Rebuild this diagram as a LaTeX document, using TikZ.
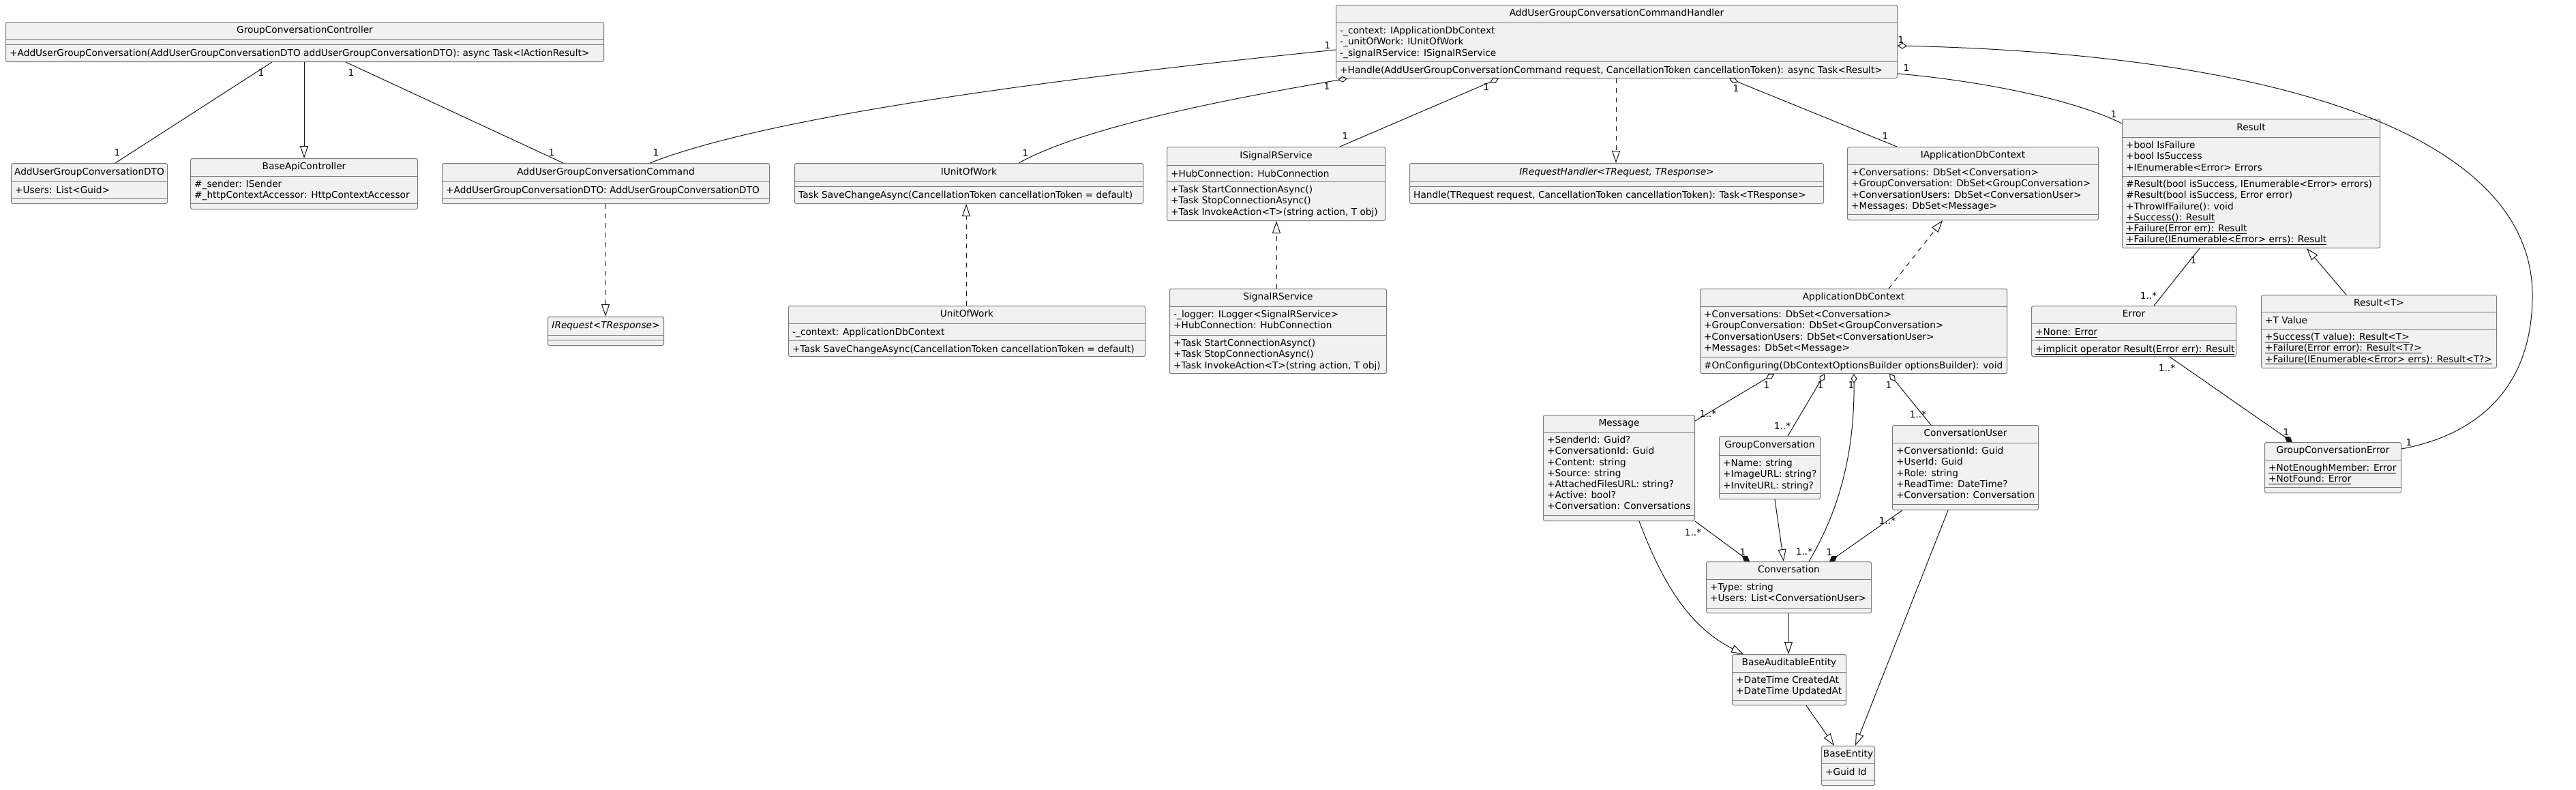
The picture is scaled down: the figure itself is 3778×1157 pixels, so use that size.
\documentclass[tikz,border=0pt]{standalone}
\usepackage{fontspec}
\setmainfont{DejaVu Sans}
\usepackage{tikz}
\usetikzlibrary{arrows.meta}
\definecolor{clsfill}{HTML}{F1F1F1}
\definecolor{clsline}{HTML}{7A7A7A}
\definecolor{conline}{HTML}{181818}
\newcommand{\umlfont}{\fontsize{13.7}{16.2}\selectfont}
\newcommand{\ulmem}[1]{\setbox0\hbox{#1}\rlap{\vrule height -2.4pt depth 3.4pt width \wd0}\box0}
\newcommand{\umlclass}[8]{%
  \node[cls, minimum width={#4-#2}, minimum height={#5-#3}] (#1) at (#2,#3) {};
  \draw[sep] ([yshift={#3-#6}]#1.north west) -- ([yshift={#3-#6}]#1.north east);
  \draw[sep] ([yshift={#3-#7}]#1.north west) -- ([yshift={#3-#7}]#1.north east);
  \node[ttl] (#1-title) at ([yshift={(#3-#6)/2}]#1.north) {#8};
  \coordinate (#1-attr) at ([xshift=6, yshift={#3-#6-6}]#1.north west);
  \coordinate (#1-meth) at ([xshift=6, yshift={#3-#7-6}]#1.north west);
}
\tikzset{
  cls/.style={draw=clsline, fill=clsfill, line width=1pt, rounded corners=2.5pt, inner sep=0pt, anchor=north west},
  sep/.style={draw=clsline, line width=1pt},
  ttl/.style={font=\umlfont, inner sep=0pt, text height=10.2pt, text depth=2.8pt},
  mem/.style={font=\umlfont, inner sep=0pt, anchor=north west, align=left, execute at begin node=\strut},
  mult/.style={font=\umlfont, inner sep=0pt},
  assoc/.style={draw=conline, line width=1pt},
  gen/.style={assoc, -{Triangle[open, length=18pt, width=12pt]}},
  real/.style={gen, dash pattern=on 7pt off 7pt},
  aggr/.style={assoc, {Diamond[open, length=14pt, width=9pt]}-},
  comp/.style={assoc, -{Diamond[length=14pt, width=9pt]}}
}

\begin{document}
\begin{tikzpicture}[x=1pt, y=-1pt]
\fill[white] (0,0) rectangle (3778,1157);
\useasboundingbox (0,0) rectangle (3778,1157);

\umlclass{gcc}{8}{32}{885}{90}{57}{65}{GroupConversationController}
\node[mem] (gcc-m) at (gcc-meth) {+AddUserGroupConversation(AddUserGroupConversationDTO addUserGroupConversationDTO): async Task<IActionResult>};

\umlclass{dto}{16}{239}{245}{298}{266}{290}{AddUserGroupConversationDTO}
\node[mem] (dto-a) at (dto-attr) {+Users: List<Guid>};

\umlclass{bac}{279}{232}{612}{306}{258}{298}{BaseApiController}
\node[mem] (bac-a) at (bac-attr) {\#\_sender: ISender\\\#\_httpContextAccessor: HttpContextAccessor};

\umlclass{cmd}{648}{239}{1128}{298}{266}{290}{AddUserGroupConversationCommand}
\node[mem] (cmd-a) at (cmd-attr) {+AddUserGroupConversationDTO: AddUserGroupConversationDTO};

\umlclass{ireq}{803}{464}{973}{506}{491}{498}{\textit{IRequest<TResponse>}}

\umlclass{iuow}{1165}{239}{1676}{298}{266}{273}{IUnitOfWork}
\node[mem] (iuow-m) at (iuow-meth) {Task SaveChangeAsync(CancellationToken cancellationToken = default)};

\umlclass{uow}{1156}{448}{1679}{522}{474}{499}{UnitOfWork}
\node[mem] (uow-a) at (uow-attr) {-\_context: ApplicationDbContext};
\node[mem] (uow-m) at (uow-meth) {+Task SaveChangeAsync(CancellationToken cancellationToken = default)};

\umlclass{isr}{1711}{215}{2031}{323}{242}{266}{ISignalRService}
\node[mem] (isr-a) at (isr-attr) {+HubConnection: HubConnection};
\node[mem] (isr-m) at (isr-meth) {+Task StartConnectionAsync()\\+Task StopConnectionAsync()\\+Task InvokeAction<T>(string action, T obj)};

\umlclass{sr}{1715}{423}{2033}{547}{449}{491}{SignalRService}
\node[mem] (sr-a) at (sr-attr) {-\_logger: ILogger<SignalRService>\\+HubConnection: HubConnection};
\node[mem] (sr-m) at (sr-meth) {+Task StartConnectionAsync()\\+Task StopConnectionAsync()\\+Task InvokeAction<T>(string action, T obj)};

\umlclass{hdl}{1959}{7}{2782}{114}{33}{90}{AddUserGroupConversationCommandHandler}
\node[mem] (hdl-a) at (hdl-attr) {-\_context: IApplicationDbContext\\-\_unitOfWork: IUnitOfWork\\-\_signalRService: ISignalRService};
\node[mem] (hdl-m) at (hdl-meth) {+Handle(AddUserGroupConversationCommand request, CancellationToken cancellationToken): async Task<Result>};

\umlclass{irh}{2067}{239}{2674}{298}{266}{273}{\textit{IRequestHandler<TRequest, TResponse>}}
\node[mem] (irh-m) at (irh-meth) {Handle(TRequest request, CancellationToken cancellationToken): Task<TResponse>};

\umlclass{iadc}{2709}{215}{3077}{322}{241}{314}{IApplicationDbContext}
\node[mem] (iadc-a) at (iadc-attr) {+Conversations: DbSet<Conversation>\\+GroupConversation: DbSet<GroupConversation>\\+ConversationUsers: DbSet<ConversationUser>\\+Messages: DbSet<Message>};

\umlclass{res}{3112}{174}{3490}{363}{201}{258}{Result}
\node[mem] (res-a) at (res-attr) {+bool IsFailure\\+bool IsSuccess\\+IEnumerable<Error> Errors};
\node[mem] (res-m) at (res-meth) {\#Result(bool isSuccess, IEnumerable<Error> errors)\\\#Result(bool isSuccess, Error error)\\+ThrowIfFailure(): void\\\ulmem{+Success(): Result}\\\ulmem{+Failure(Error err): Result}\\\ulmem{+Failure(IEnumerable<Error> errs): Result}};

\umlclass{adc}{2493}{423}{2943}{547}{449}{523}{ApplicationDbContext}
\node[mem] (adc-a) at (adc-attr) {+Conversations: DbSet<Conversation>\\+GroupConversation: DbSet<GroupConversation>\\+ConversationUsers: DbSet<ConversationUser>\\+Messages: DbSet<Message>};
\node[mem] (adc-m) at (adc-meth) {\#OnConfiguring(DbContextOptionsBuilder optionsBuilder): void};

\umlclass{err}{2979}{448}{3279}{522}{474}{499}{Error}
\node[mem] (err-a) at (err-attr) {\ulmem{+None: Error}};
\node[mem] (err-m) at (err-meth) {\ulmem{+implicit operator Result(Error err): Result}};

\umlclass{rest}{3316}{432}{3661}{539}{457}{482}{Result<T>}
\node[mem] (rest-a) at (rest-attr) {+T Value};
\node[mem] (rest-m) at (rest-meth) {\ulmem{+Success(T value): Result<T>}\\\ulmem{+Failure(Error error): Result<T?>}\\\ulmem{+Failure(IEnumerable<Error> errs): Result<T?>}};

\umlclass{gce}{3321}{648}{3521}{722}{674}{714}{GroupConversationError}
\node[mem] (gce-a) at (gce-attr) {\ulmem{+NotEnoughMember: Error}\\\ulmem{+NotFound: Error}};

\umlclass{msg}{2263}{608}{2485}{763}{633}{755}{Message}
\node[mem] (msg-a) at (msg-attr) {+SenderId: Guid?\\+ConversationId: Guid\\+Content: string\\+Source: string\\+AttachedFilesURL: string?\\+Active: bool?\\+Conversation: Conversations};

\umlclass{gc}{2521}{639}{2669}{731}{667}{723}{GroupConversation}
\node[mem] (gc-a) at (gc-attr) {+Name: string\\+ImageURL: string?\\+InviteURL: string?};

\umlclass{cu}{2775}{623}{2989}{747}{649}{739}{ConversationUser}
\node[mem] (cu-a) at (cu-attr) {+ConversationId: Guid\\+UserId: Guid\\+Role: string\\+ReadTime: DateTime?\\+Conversation: Conversation};

\umlclass{conv}{2502}{823}{2744}{898}{849}{891}{Conversation}
\node[mem] (conv-a) at (conv-attr) {+Type: string\\+Users: List<ConversationUser>};

\umlclass{bae}{2540}{959}{2707}{1033}{985}{1026}{BaseAuditableEntity}
\node[mem] (bae-a) at (bae-attr) {+DateTime CreatedAt\\+DateTime UpdatedAt};

\umlclass{be}{2671}{1093}{2749}{1151}{1119}{1143}{BaseEntity}
\node[mem] (be-a) at (be-attr) {+Guid Id};

% controller
\draw[assoc] ([xshift=391]gcc.south west) -- node[mult, at start, xshift=-16, yshift=-16]{1} node[mult, at end, xshift=3, yshift=15]{1} ([xshift=153]dto.north west);
\draw[gen] ([xshift=438]gcc.south west) -- ([xshift=167]bac.north west);
\draw[assoc] ([xshift=499]gcc.south west) -- node[mult, at start, xshift=8, yshift=-16]{1} node[mult, at end, xshift=-17, yshift=15]{1} ([xshift=178]cmd.north west);
\draw[real] ([xshift=240]cmd.south west) -- ([xshift=85]ireq.north west);

% handler
\draw[assoc] ([xshift=305]cmd.north west) .. controls (1090,185) and (1400,130) .. node[mult, at start, xshift=9, yshift=15]{1} node[mult, at end, xshift=-12, yshift=6]{1} ([yshift=-66]hdl.north west);
\draw[aggr] ([xshift=17]hdl.south west) .. controls (1850,137) and (1600,180) .. node[mult, at start, xshift=-30, yshift=-12]{1} node[mult, at end, xshift=10, yshift=14]{1} ([xshift=329]iuow.north west);
\draw[aggr] ([xshift=239]hdl.south west) -- node[mult, at start, xshift=-18, yshift=-13]{1} node[mult, at end, xshift=8, yshift=15]{1} ([xshift=254]isr.north west);
\draw[real] ([xshift=411]hdl.south west) -- ([xshift=303]irh.north west);
\draw[aggr] ([xshift=577]hdl.south west) -- node[mult, at start, xshift=10, yshift=-15]{1} node[mult, at end, xshift=-17, yshift=15]{1} ([xshift=73]iadc.north west);
\draw[aggr] ([yshift=-60]hdl.north east) .. controls (3350,80) and (3714,200) .. (3714,433) .. controls (3714,580) and (3620,640) .. node[mult, at end, xshift=11, yshift=10]{1} ([yshift=-10]gce.north east);
\path ([yshift=-60]hdl.north east) node[mult, xshift=5, yshift=8]{1};
\draw[assoc] ([yshift=7]hdl.south east) .. controls (2900,118) and (3040,145) .. node[mult, at start, xshift=13, yshift=8]{1} node[mult, at end, xshift=-12, yshift=13]{1} ([yshift=-7]res.north west);
\draw[real] ([xshift=261]uow.north west) -- ([xshift=252]iuow.south west);
\draw[real] ([xshift=157]sr.north west) -- ([xshift=161]isr.south west);
\draw[real] ([xshift=277]adc.north west) -- ([xshift=140]iadc.south west);

% result
\draw[assoc] ([xshift=114]res.south west) -- node[mult, at start, xshift=-9, yshift=-17]{1} node[mult, at end, xshift=-8, yshift=15]{1..*} ([xshift=180]err.north west);
\draw[gen] ([xshift=125]rest.north west) -- ([xshift=271]res.south west);
\draw[comp] ([xshift=203]err.south west) -- node[mult, at start, xshift=-4, yshift=-16]{1..*} node[mult, at end, xshift=-9, yshift=15]{1} ([xshift=41]gce.north west);

% entities
\draw[aggr] ([xshift=109]adc.south west) -- node[mult, at start, xshift=-11, yshift=-16]{1} node[mult, at end, xshift=19, yshift=11]{1..*} ([yshift=-9]msg.north east);
\draw[aggr] ([xshift=183]adc.south west) -- node[mult, at start, xshift=-6, yshift=-16]{1} node[mult, at end, xshift=-8, yshift=15]{1..*} ([xshift=101]gc.north west);
\draw[aggr] ([xshift=226]adc.south west) .. controls (2720,680) and (2690,760) .. node[mult, at start, xshift=-4, yshift=-16]{1} node[mult, at end, xshift=-7, yshift=15]{1..*} ([xshift=151]conv.north west);
\draw[aggr] ([xshift=278]adc.south west) -- node[mult, at start, xshift=-1, yshift=-16]{1} node[mult, at end, xshift=-19, yshift=16]{1..*} ([xshift=57]cu.north west);
\draw[comp] (msg.south east) -- node[mult, at start, xshift=-3, yshift=-16]{1..*} node[mult, at end, xshift=-10, yshift=14]{1} ([xshift=64]conv.north west);
\draw[gen] ([xshift=82]gc.south west) -- ([xshift=114]conv.north west);
\draw[comp] ([xshift=15]cu.south west) -- node[mult, at start, xshift=-22, yshift=-15]{1..*} node[mult, at end, xshift=0, yshift=14]{1} ([xshift=181]conv.north west);
\draw[gen] ([xshift=141]msg.south west) .. controls (2440,860) and (2480,920) .. ([xshift=17]bae.north west);
\draw[gen] ([xshift=121]conv.south west) -- ([xshift=83]bae.north west);
\draw[gen] ([xshift=109]bae.south west) -- ([xshift=19]be.north west);
\draw[gen] ([xshift=82]cu.south west) -- ([xshift=50]be.north west);

\end{tikzpicture}
\end{document}
